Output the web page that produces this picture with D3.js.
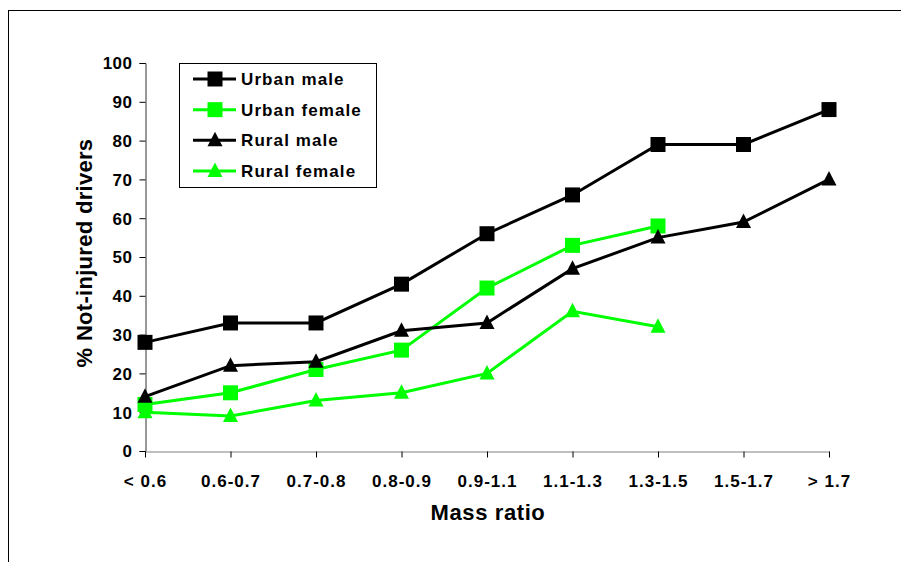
<!DOCTYPE html>
<html>
<head>
<meta charset="utf-8">
<script src="https://cdn.jsdelivr.net/npm/d3@7"></script>
<style>
  body { margin: 0; background: #fff; }
  svg text { font-family: "Liberation Sans", Arial, sans-serif; font-weight: bold; fill: #000; }
</style>
</head>
<body>
<svg id="chart" width="901" height="562"></svg>
<script>
const categories = ["< 0.6", "0.6-0.7", "0.7-0.8", "0.8-0.9", "0.9-1.1", "1.1-1.3", "1.3-1.5", "1.5-1.7", "> 1.7"];
const urbanMale = [28, 33, 33, 43, 56, 66, 79, 79, 88];
const urbanFemale = [12, 15, 21, 26, 42, 53, 58];
const ruralMale = [14, 22, 23, 31, 33, 47, 55, 59, 70];
const ruralFemale = [10, 9, 13, 15, 20, 36, 32];
const yTicks = [0, 10, 20, 30, 40, 50, 60, 70, 80, 90, 100];

const series = [
  { name: "Urban male", values: urbanMale, color: "#000000", shape: "square" },
  { name: "Urban female", values: urbanFemale, color: "#00ff00", shape: "square" },
  { name: "Rural male", values: ruralMale, color: "#000000", shape: "triangle" },
  { name: "Rural female", values: ruralFemale, color: "#00ff00", shape: "triangle" }
];

const svg = d3.select("#chart");

// outer frame (only top and left edges show)
svg.append("line").attr("x1", 8).attr("x2", 901).attr("y1", 10.5).attr("y2", 10.5)
  .attr("stroke", "#000").attr("stroke-width", 1);
svg.append("line").attr("x1", 8.5).attr("x2", 8.5).attr("y1", 10).attr("y2", 562)
  .attr("stroke", "#000").attr("stroke-width", 1);

const xScale = d3.scalePoint().domain(categories).range([145, 829]);
const yScale = d3.scaleLinear().domain([0, 100]).range([451, 63]);

// y axis
const yAxis = d3.axisLeft(yScale).tickValues(yTicks).tickSize(6).tickPadding(7);
const gy = svg.append("g").attr("transform", "translate(145.5,0)").call(yAxis);
gy.select(".domain").attr("stroke", "#333");
gy.selectAll(".tick line").attr("stroke", "#000");
gy.selectAll(".tick text").style("font-size", "17px").style("letter-spacing", "0.5px")
  .attr("dy", "0.35em");

// x axis
const xAxis = d3.axisBottom(xScale).tickSize(6).tickPadding(0).tickSizeOuter(0);
const gx = svg.append("g").attr("transform", "translate(0,451.5)").call(xAxis);
gx.select(".domain").attr("stroke", "#808080");
gx.selectAll(".tick line").attr("stroke", "#000");
gx.selectAll(".tick text").style("font-size", "17px").style("letter-spacing", "1px")
  .attr("y", 35.5).attr("dy", 0);

// axis titles
svg.append("text").attr("x", 488).attr("y", 520).attr("text-anchor", "middle")
  .style("font-size", "22px").style("letter-spacing", "0.6px").text("Mass ratio");
svg.append("text").attr("transform", "translate(92,253) rotate(-90)")
  .attr("text-anchor", "middle").style("font-size", "22px").style("letter-spacing", "0.3px")
  .text("% Not-injured drivers");

const sq = d3.symbol().type(d3.symbolSquare).size(225);
// triangle a bit taller than equilateral, like the reference markers
const tri = () => "M0,-8.5L7.5,6L-7.5,6Z";

const line = d3.line().x((d, i) => xScale(categories[i])).y(d => yScale(d));

series.forEach(s => {
  const g = svg.append("g");
  g.append("path").datum(s.values).attr("d", line)
    .attr("fill", "none").attr("stroke", s.color).attr("stroke-width", 3);
  g.selectAll("path.mark").data(s.values).enter().append("path")
    .attr("class", "mark")
    .attr("d", s.shape === "square" ? sq : tri)
    .attr("transform", (d, i) => `translate(${xScale(categories[i])},${yScale(d)})`)
    .attr("fill", s.color);
});

// legend
const legend = svg.append("g");
legend.append("rect").attr("x", 179.5).attr("y", 63.5).attr("width", 197).attr("height", 124)
  .attr("fill", "#fff").attr("stroke", "#000").attr("stroke-width", 1);
const legendY = d3.scalePoint().domain(series.map(s => s.name)).range([79, 171]);
series.forEach(s => {
  const y = legendY(s.name);
  legend.append("line").attr("x1", 193).attr("x2", 236).attr("y1", y).attr("y2", y)
    .attr("stroke", s.color).attr("stroke-width", 3);
  legend.append("path").attr("d", s.shape === "square" ? sq : tri)
    .attr("transform", `translate(215,${y})`)
    .attr("fill", s.color);
  legend.append("text").attr("x", 241).attr("y", y + 6)
    .style("font-size", "17px").style("letter-spacing", "1.1px").text(s.name);
});
</script>
</body>
</html>
